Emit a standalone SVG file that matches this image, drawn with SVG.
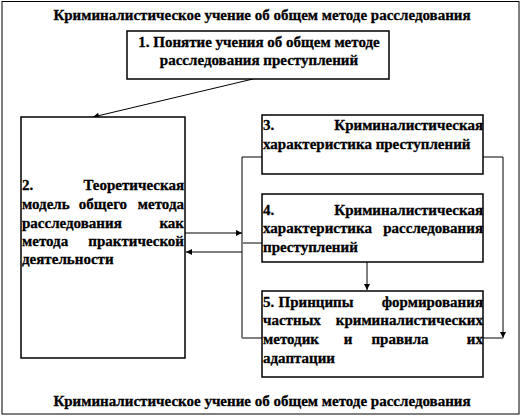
<svg xmlns="http://www.w3.org/2000/svg" width="524" height="419" viewBox="0 0 524 419">
<defs>
<style>
text{font-family:"Liberation Serif","Times New Roman",serif;font-size:15px;font-weight:bold;fill:#000;stroke:#000;stroke-width:0.3}
.box{fill:#fff;stroke:#000;stroke-width:1.5}
.ln{fill:none;stroke:#000;stroke-width:1}
.gr{fill:none;stroke:#808080;stroke-width:2}
.e{text-anchor:end}
.m{text-anchor:middle}
</style>
<marker id="ah" viewBox="0 0 10 10" refX="10" refY="5" markerWidth="7" markerHeight="6" markerUnits="userSpaceOnUse" orient="auto">
<path d="M0,0 L10,5 L0,10 z" fill="#000"/>
</marker>
</defs>
<rect x="0" y="0" width="524" height="419" fill="#fff"/>
<rect x="2" y="1.5" width="517" height="412.5" fill="none" stroke="#000" stroke-width="1"/>
<text class="m" x="262" y="20">Криминалистическое учение об общем методе расследования</text>
<text class="m" x="262" y="406">Криминалистическое учение об общем методе расследования</text>

<g id="connectors">
<path class="ln" d="M253,79 L93,117" marker-end="url(#ah)"/>
<path class="ln" d="M185,233 L242,233" marker-end="url(#ah)"/>
<path class="ln" d="M242,252 L186,252" marker-end="url(#ah)"/>
<path class="ln" d="M262,157 L242,157 L242,338"/>
<path class="gr" d="M242,243 L262,243"/>
<path class="gr" d="M242,338 L262,338"/>
<path class="ln" d="M367,262 L367,290" marker-end="url(#ah)"/>
<path class="ln" d="M483,157 L503,157 L503,338" marker-end="url(#ah)"/>
<path class="gr" d="M483,338 L503,338"/>
</g>

<g id="node1">
<rect class="box" x="127" y="31" width="262" height="48"/>
<text class="m" x="259" y="47">1. Понятие учения об общем методе</text>
<text class="m" x="259" y="65">расследования преступлений</text>
</g>

<g id="node2">
<rect class="box" x="21" y="117" width="164" height="241"/>
<text x="22" y="190">2.</text><text class="e" x="184" y="190">Теоретическая</text>
<text x="22" y="209">модель</text><text class="m" x="103" y="209">общего</text><text class="e" x="184" y="209">метода</text>
<text x="22" y="228">расследования</text><text class="e" x="184" y="228">как</text>
<text x="22" y="246">метода</text><text class="e" x="184" y="246">практической</text>
<text x="22" y="264">деятельности</text>
</g>

<g id="node3">
<rect class="box" x="262" y="115" width="221" height="59"/>
<text x="263" y="130">3.</text><text class="e" x="483" y="130">Криминалистическая</text>
<text x="263" y="149">характеристика преступлений</text>
</g>

<g id="node4">
<rect class="box" x="262" y="194" width="221" height="68"/>
<text x="263" y="215">4.</text><text class="e" x="483" y="215">Криминалистическая</text>
<text x="263" y="233">характеристика</text><text class="e" x="483" y="233">расследования</text>
<text x="263" y="252">преступлений</text>
</g>

<g id="node5">
<rect class="box" x="262" y="291" width="221" height="86"/>
<text x="263" y="307">5.</text><text class="m" x="316" y="307">Принципы</text><text class="e" x="483" y="307">формирования</text>
<text x="263" y="325">частных</text><text class="e" x="483" y="325">криминалистических</text>
<text x="263" y="344">методик</text><text class="m" x="348" y="344">и</text><text class="m" x="400" y="344">правила</text><text class="e" x="483" y="344">их</text>
<text x="263" y="363">адаптации</text>
</g>
</svg>
